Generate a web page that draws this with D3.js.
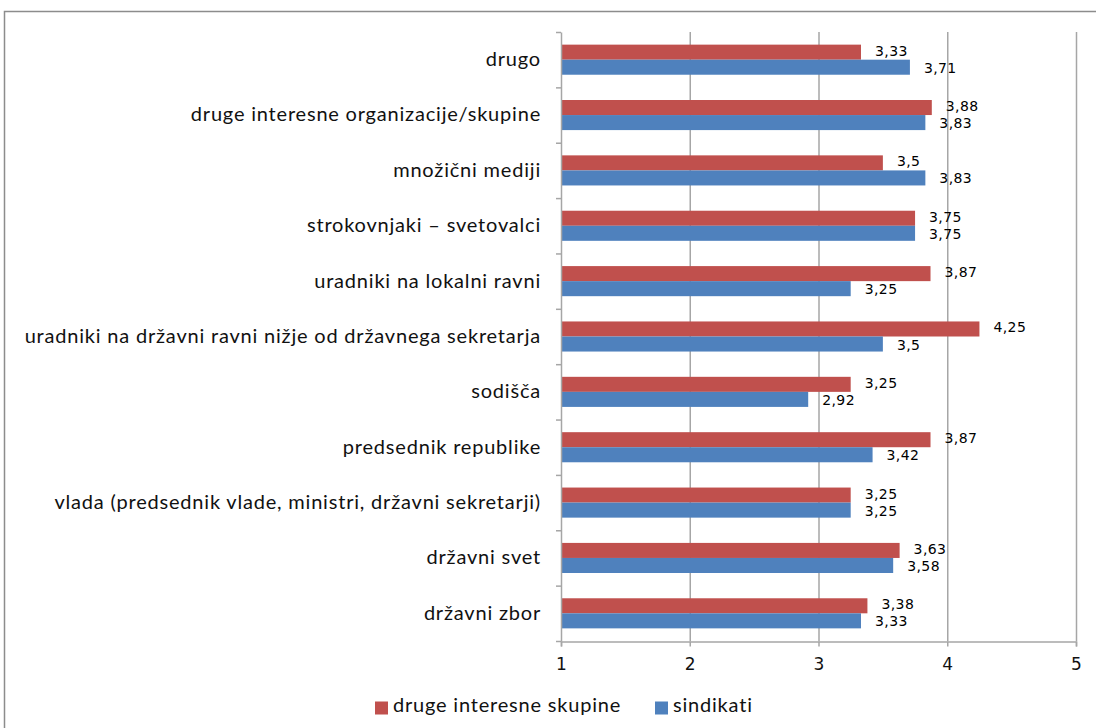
<!DOCTYPE html>
<html>
<head>
<meta charset="utf-8">
<script src="https://cdn.jsdelivr.net/npm/d3@7"></script>
<style>
  html, body { margin: 0; padding: 0; background: #fff; }
  svg { display: block; }
</style>
</head>
<body>
<svg id="chart" width="1096" height="728"></svg>
<script>
// Categories, top to bottom
const categories = [
  "drugo",
  "druge interesne organizacije/skupine",
  "množični mediji",
  "strokovnjaki – svetovalci",
  "uradniki na lokalni ravni",
  "uradniki na državni ravni nižje od državnega sekretarja",
  "sodišča",
  "predsednik republike",
  "vlada (predsednik vlade, ministri, državni sekretarji)",
  "državni svet",
  "državni zbor"
];
const seriesNames = ["druge interesne skupine", "sindikati"];
const drugeSkupine = [3.33, 3.88, 3.5, 3.75, 3.87, 4.25, 3.25, 3.87, 3.25, 3.63, 3.38];
const sindikati    = [3.71, 3.83, 3.83, 3.75, 3.25, 3.5, 2.92, 3.42, 3.25, 3.58, 3.33];
const xTicks = [1, 2, 3, 4, 5];
const colors = ["#C0504D", "#4F81BD"];

const labelFont = "Lato, 'Open Sans', sans-serif";
const svg = d3.select("#chart");

// outer frame
svg.append("path")
  .attr("d", "M4.5,740 V11.5 H1100")
  .attr("fill", "none").attr("stroke", "#8c8c8c").attr("stroke-width", 1.5);

const plot = { left: 561, right: 1076, top: 32, bottom: 641 };

const x = d3.scaleLinear().domain([1, 5]).range([plot.left, plot.right]);
const y = d3.scaleBand().domain(categories).range([plot.top, plot.bottom]);
const inner = d3.scaleBand().domain(seriesNames).range([0, y.bandwidth()]).paddingInner(0).paddingOuter(0.84);

// vertical gridlines
svg.append("g").selectAll("line").data(xTicks.slice(1)).join("line")
  .attr("x1", d => x(d) + 0.5).attr("x2", d => x(d) + 0.5)
  .attr("y1", plot.top).attr("y2", plot.bottom)
  .attr("stroke", "#a6a6a6").attr("stroke-width", 1.5);

// bars
const rows = categories.map((c, i) => ({ c, vals: [drugeSkupine[i], sindikati[i]] }));
const groups = svg.append("g").selectAll("g").data(rows).join("g")
  .attr("transform", d => `translate(0,${y(d.c)})`);

groups.selectAll("rect").data(d => d.vals.map((v, k) => ({ v, k }))).join("rect")
  .attr("x", x(1))
  .attr("y", d => inner(seriesNames[d.k]))
  .attr("width", d => x(d.v) - x(1))
  .attr("height", inner.bandwidth())
  .attr("fill", d => colors[d.k]);

// value labels (pair nudged apart slightly so they don't collide)
groups.selectAll("text").data(d => d.vals.map((v, k) => ({ v, k }))).join("text")
  .attr("x", d => x(d.v) + 14)
  .attr("y", d => inner(seriesNames[d.k]) + inner.bandwidth() / 2 + (d.k === 0 ? -0.5 : 1.5))
  .attr("dominant-baseline", "middle")
  .attr("font-family", "DejaVu Sans, Verdana, sans-serif")
  .attr("font-size", 14)
  .attr("letter-spacing", 0.4)
  .attr("fill", "#000")
  .text(d => String(d.v).replace(".", ","));

// y axis
const yAxis = d3.axisLeft(y).tickSize(0).tickPadding(20);
const gy = svg.append("g").attr("transform", `translate(${plot.left},0)`).call(yAxis);
gy.select(".domain").attr("stroke", "#a6a6a6").attr("stroke-width", 1.5);
gy.selectAll("text")
  .attr("font-family", labelFont)
  .attr("font-size", 20)
  .attr("letter-spacing", 0.8)
  .attr("fill", "#111");
// boundary tick marks between categories
svg.append("g").selectAll("line")
  .data(categories.map(c => y(c)).concat([plot.bottom]))
  .join("line")
  .attr("x1", plot.left - 5).attr("x2", plot.left)
  .attr("y1", d => d + 0.5).attr("y2", d => d + 0.5)
  .attr("stroke", "#a6a6a6").attr("stroke-width", 1.5);

// x axis
const xAxis = d3.axisBottom(x).tickValues(xTicks).tickSize(5).tickPadding(11).tickFormat(d3.format("d"));
const gx = svg.append("g").attr("transform", `translate(0,${plot.bottom + 0.5})`).call(xAxis);
gx.select(".domain").attr("stroke", "#a6a6a6").attr("stroke-width", 1.5);
gx.selectAll(".tick line").attr("stroke", "#a6a6a6").attr("stroke-width", 1.5);
gx.selectAll("text")
  .attr("font-family", "DejaVu Sans, sans-serif")
  .attr("font-size", 17)
  .attr("fill", "#111");

// legend
const legend = svg.append("g").attr("transform", "translate(0,708)");
const legendX = [375, 655];
seriesNames.forEach((name, k) => {
  legend.append("rect").attr("x", legendX[k]).attr("y", -6.5).attr("width", 13).attr("height", 13).attr("fill", colors[k]);
  legend.append("text")
    .attr("x", legendX[k] + 18).attr("y", -1)
    .attr("dominant-baseline", "middle")
    .attr("font-family", labelFont)
    .attr("font-size", 20)
    .attr("letter-spacing", 0.8)
    .attr("fill", "#111")
    .text(name);
});
</script>
</body>
</html>
